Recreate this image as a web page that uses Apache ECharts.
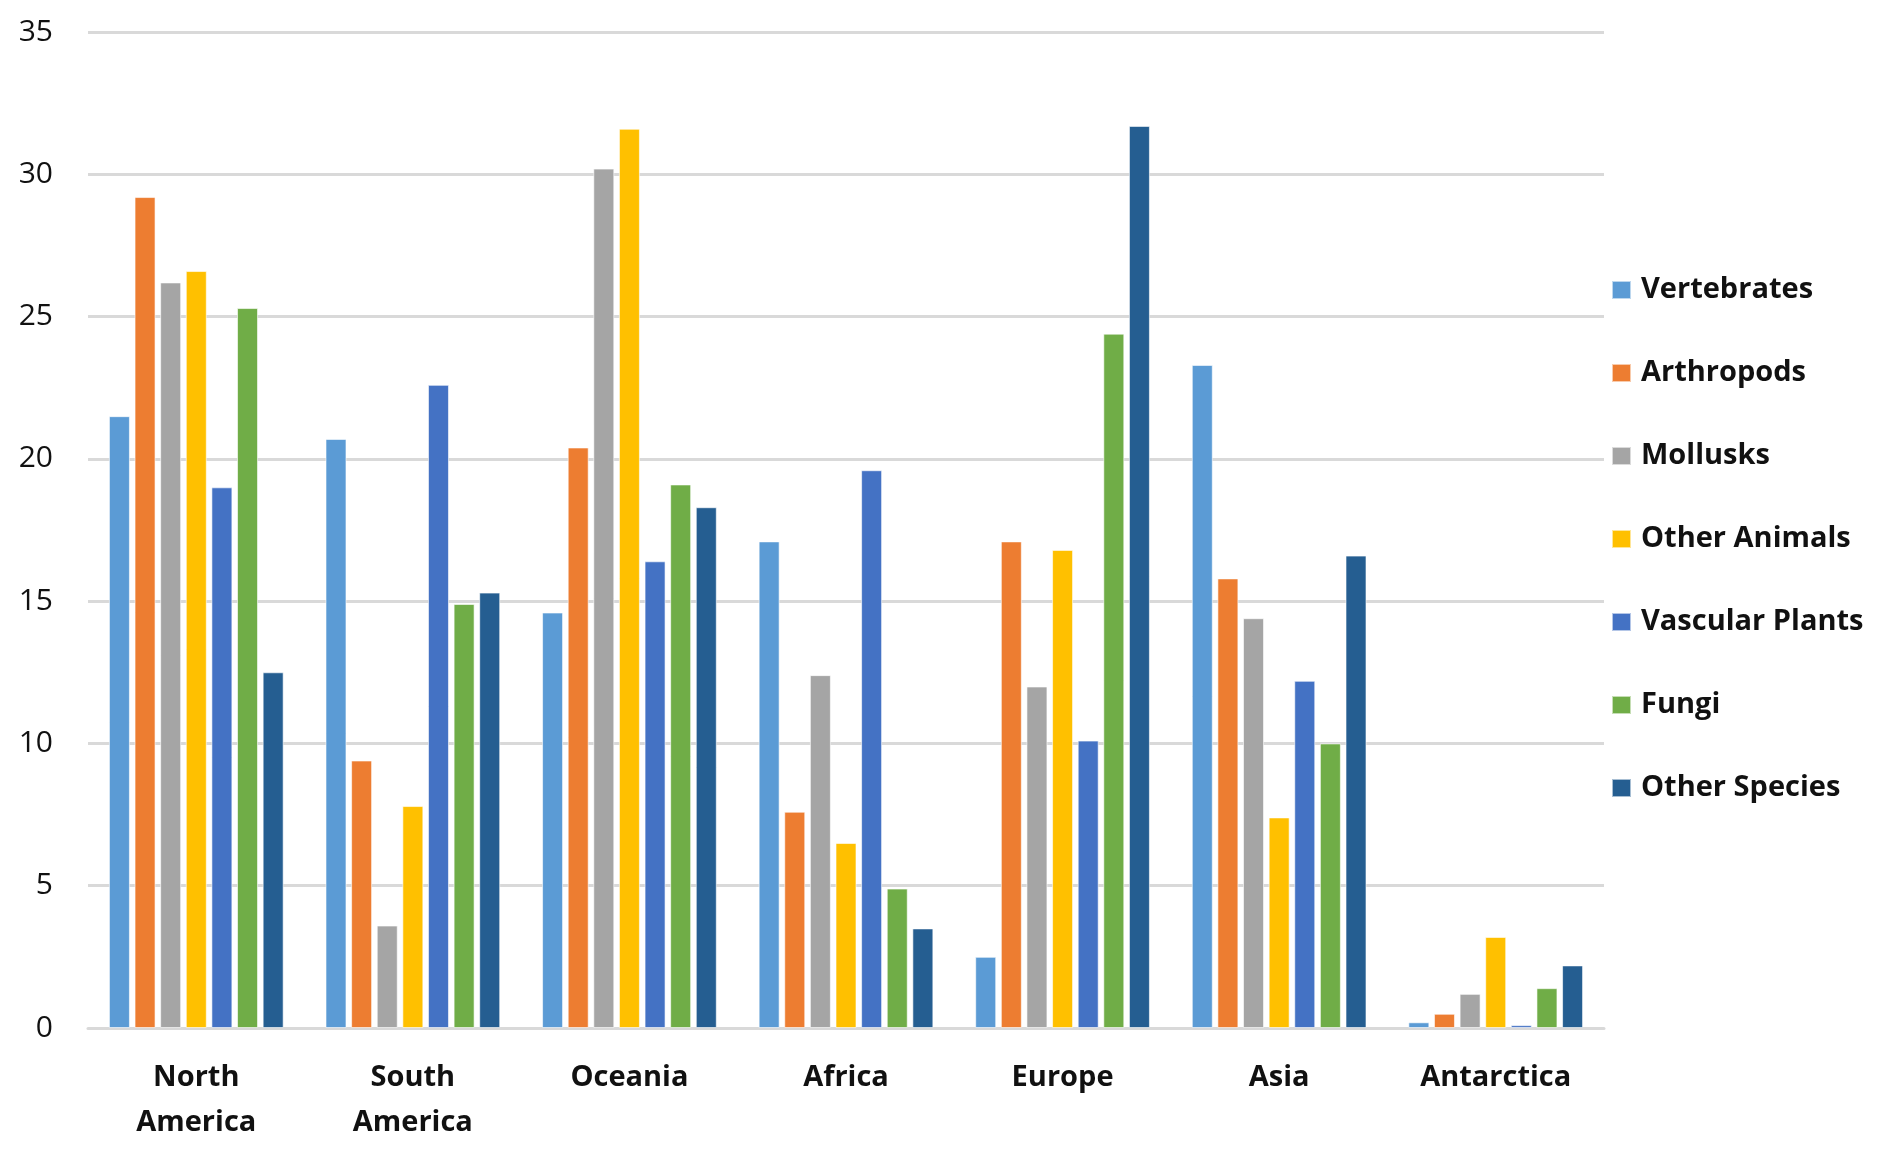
<!DOCTYPE html>
<html>
<head>
<meta charset="utf-8">
<script src="https://cdn.jsdelivr.net/npm/echarts@6/dist/echarts.min.js"></script>
<style>
html,body{margin:0;padding:0;background:#fff;}
#chart{width:1892px;height:1152px;}
</style>
</head>
<body>
<div id="chart"></div>
<script>
const categories = ['North\nAmerica', 'South\nAmerica', 'Oceania', 'Africa', 'Europe', 'Asia', 'Antarctica'];
const yTicks = [0, 5, 10, 15, 20, 25, 30, 35];
const seriesNames = ['Vertebrates', 'Arthropods', 'Mollusks', 'Other Animals', 'Vascular Plants', 'Fungi', 'Other Species'];
const vertebrates    = [21.5, 20.7, 14.6, 17.1, 2.5, 23.3, 0.2];
const arthropods     = [29.2, 9.4, 20.4, 7.6, 17.1, 15.8, 0.5];
const mollusks       = [26.2, 3.6, 30.2, 12.4, 12.0, 14.4, 1.2];
const otherAnimals   = [26.6, 7.8, 31.6, 6.5, 16.8, 7.4, 3.2];
const vascularPlants = [19.0, 22.6, 16.4, 19.6, 10.1, 12.2, 0.1];
const fungi          = [25.3, 14.9, 19.1, 4.9, 24.4, 10.0, 1.4];
const otherSpecies   = [12.5, 15.3, 18.3, 3.5, 31.7, 16.6, 2.2];

const seriesData = [vertebrates, arthropods, mollusks, otherAnimals, vascularPlants, fungi, otherSpecies];
const colors = ['#5B9BD5', '#ED7D31', '#A5A5A5', '#FFC000', '#4472C4', '#70AD47', '#255E91'];
const FONT = '"Open Sans", Lato, sans-serif';

const chart = echarts.init(document.getElementById('chart'));
chart.setOption({
  animation: false,
  backgroundColor: '#ffffff',
  color: colors,
  grid: { left: 88, right: 288, top: 32, bottom: 124 },
  legend: {
    orient: 'vertical',
    left: 1606,
    top: 267,
    itemWidth: 19,
    itemHeight: 18,
    itemGap: 47,
    icon: 'rect',
    textStyle: { fontFamily: FONT, fontWeight: 'bold', fontSize: 29, color: '#111', lineHeight: 36, padding: [0, 0, 0, 5] },
    data: seriesNames
  },
  xAxis: {
    type: 'category',
    data: categories,
    axisTick: { show: false },
    axisLine: { lineStyle: { color: '#D9D9D9', width: 3 } },
    axisLabel: { fontFamily: FONT, fontWeight: 'bold', fontSize: 29, color: '#111', lineHeight: 45, margin: 27 }
  },
  yAxis: {
    type: 'value',
    min: yTicks[0],
    max: yTicks[yTicks.length - 1],
    interval: 5,
    axisLine: { show: false },
    axisTick: { show: false },
    splitLine: { lineStyle: { color: '#D9D9D9', width: 3 } },
    axisLabel: { fontFamily: FONT, fontSize: 30, color: '#111', margin: 35 }
  },
  series: seriesNames.map((name, i) => ({
    name: name,
    type: 'bar',
    data: seriesData[i],
    barWidth: 21,
    barGap: '22%',
    itemStyle: { color: colors[i], borderColor: 'rgba(255,255,255,0.6)', borderWidth: 1 }
  }))
});
</script>
</body>
</html>
